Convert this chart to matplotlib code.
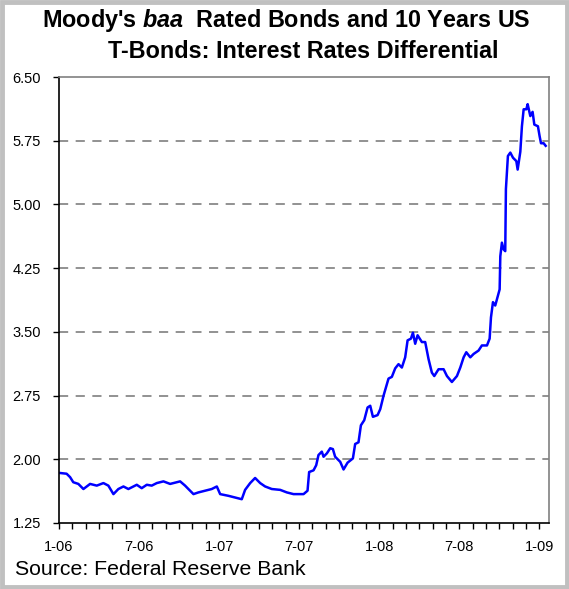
import matplotlib
matplotlib.use("Agg")
import matplotlib.pyplot as plt
from matplotlib.patches import Rectangle
from matplotlib.ticker import MultipleLocator, FixedLocator, FuncFormatter

plt.rcParams["font.family"] = ["Liberation Sans", "DejaVu Sans"]
plt.rcParams["mathtext.fontset"] = "custom"
plt.rcParams["mathtext.it"] = "Liberation Sans:italic:bold"
plt.rcParams["mathtext.rm"] = "Liberation Sans:bold"

# months since Jan 2006, spread in percentage points
months = [
    0, 0.57, 0.83, 1.07, 1.45, 1.83, 2.33, 2.83, 3.33, 3.7, 4.08, 4.45, 4.83,
    5.2, 5.83, 6.2, 6.58, 6.95, 7.33, 7.83, 8.33, 9.08, 9.45, 9.7, 10.08,
    10.45, 10.95, 11.45, 11.83, 12.08, 12.7, 13.2, 13.7, 13.95, 14.33, 14.7,
    15.08, 15.45, 15.95, 16.58, 17.08, 17.58, 18.33, 18.63, 18.75, 19.08,
    19.28, 19.45, 19.7, 19.83, 20.08, 20.33, 20.53, 20.7, 21.08, 21.33, 21.63,
    22.03, 22.2, 22.45, 22.63, 22.88, 23.13, 23.33, 23.53, 23.88, 24.08, 24.33,
    24.7, 24.95, 25.2, 25.45, 25.7, 25.95, 26.13, 26.38, 26.53, 26.7, 26.88,
    27.2, 27.45, 27.7, 27.95, 28.13, 28.45, 28.83, 29.08, 29.45, 29.83, 30.08,
    30.33, 30.53, 30.83, 31.08, 31.45, 31.7, 32.08, 32.28, 32.38, 32.53, 32.7,
    33.03, 33.08, 33.2, 33.33, 33.45, 33.5, 33.65, 33.83, 34.03, 34.28, 34.38,
    34.58, 34.7, 34.83, 35.03, 35.13, 35.33, 35.5, 35.63, 35.9, 36.03, 36.13,
    36.33, 36.48,
]
spread = [
    1.84, 1.83, 1.79, 1.73, 1.71, 1.65, 1.71, 1.69, 1.72, 1.69, 1.59, 1.65,
    1.68, 1.65, 1.70, 1.66, 1.70, 1.69, 1.72, 1.74, 1.71, 1.74, 1.69, 1.65,
    1.59, 1.61, 1.63, 1.65, 1.68, 1.59, 1.57, 1.55, 1.53, 1.64, 1.72, 1.78,
    1.72, 1.68, 1.65, 1.64, 1.61, 1.59, 1.59, 1.63, 1.85, 1.87, 1.93, 2.05,
    2.09, 2.03, 2.07, 2.13, 2.12, 2.03, 1.97, 1.88, 1.96, 2.01, 2.18, 2.20,
    2.40, 2.46, 2.61, 2.63, 2.50, 2.52, 2.59, 2.75, 2.95, 2.97, 3.07, 3.12,
    3.08, 3.20, 3.40, 3.42, 3.49, 3.36, 3.46, 3.38, 3.38, 3.18, 3.02, 2.98,
    3.06, 3.06, 2.98, 2.91, 2.98, 3.08, 3.20, 3.26, 3.20, 3.24, 3.28, 3.34,
    3.34, 3.42, 3.67, 3.85, 3.81, 4.00, 4.39, 4.55, 4.47, 4.45, 5.18, 5.57,
    5.61, 5.55, 5.51, 5.41, 5.62, 5.92, 6.12, 6.12, 6.18, 6.04, 6.09, 5.94,
    5.92, 5.80, 5.72, 5.72, 5.69,
]
x_tick_pos = [0, 6, 12, 18, 24, 30, 36]
x_tick_labels = ["1-06", "7-06", "1-07", "7-07", "1-08", "7-08", "1-09"]
y_ticks = [1.25, 2.00, 2.75, 3.50, 4.25, 5.00, 5.75, 6.50]

W, H = 569, 589
fig = plt.figure(figsize=(W / 100, H / 100), dpi=100)

# outer grey frame
fig.patches.append(Rectangle((0.003, 0.003), 0.994, 0.994, transform=fig.transFigure,
                             fill=False, edgecolor="#c0c0c0", linewidth=3.5))

ax = fig.add_axes([59 / W, (H - 523) / H, 490 / W, (523 - 77) / H])
ax.plot(months, spread, color="#0000ff", linewidth=1.8)

ax.set_xlim(0, 36.73)
ax.set_ylim(1.25, 6.50)
ax.xaxis.set_major_locator(FixedLocator(x_tick_pos))
ax.set_xticklabels(x_tick_labels)
ax.xaxis.set_minor_locator(MultipleLocator(1))
ax.set_yticks(y_ticks)
ax.yaxis.set_major_formatter(FuncFormatter(lambda v, _: f"{v:.2f}"))

ax.tick_params(axis="both", which="both", direction="out", length=4, width=1,
               color="black", labelsize=10.5)
ax.tick_params(axis="x", pad=8)
ax.tick_params(axis="y", pad=9)
ax.tick_params(axis="x", which="minor", length=4)

for v in y_ticks[1:-1]:
    ax.axhline(v, color="#7f7f7f", linewidth=1.2, linestyle=(0, (5.5, 4.5)), zorder=0)

ax.spines["left"].set_color("black")
ax.spines["bottom"].set_color("black")
ax.spines["left"].set_linewidth(1.2)
ax.spines["bottom"].set_linewidth(1.2)
ax.spines["top"].set_color("#808080")
ax.spines["right"].set_color("#808080")
ax.spines["top"].set_linewidth(1.2)
ax.spines["right"].set_linewidth(1.2)

fig.text(286.5 / W, 1 - 27 / H, r"Moody's $\it{baa}$  Rated Bonds and 10 Years US",
         ha="center", va="baseline", fontsize=16.8, fontweight="bold")
fig.text(303.5 / W, 1 - 58 / H, "T-Bonds: Interest Rates Differential",
         ha="center", va="baseline", fontsize=16.8, fontweight="bold")

fig.text(15 / W, 1 - 575 / H, "Source: Federal Reserve Bank",
         ha="left", va="baseline", fontsize=15.3)

fig.savefig("out.png", dpi=100)
